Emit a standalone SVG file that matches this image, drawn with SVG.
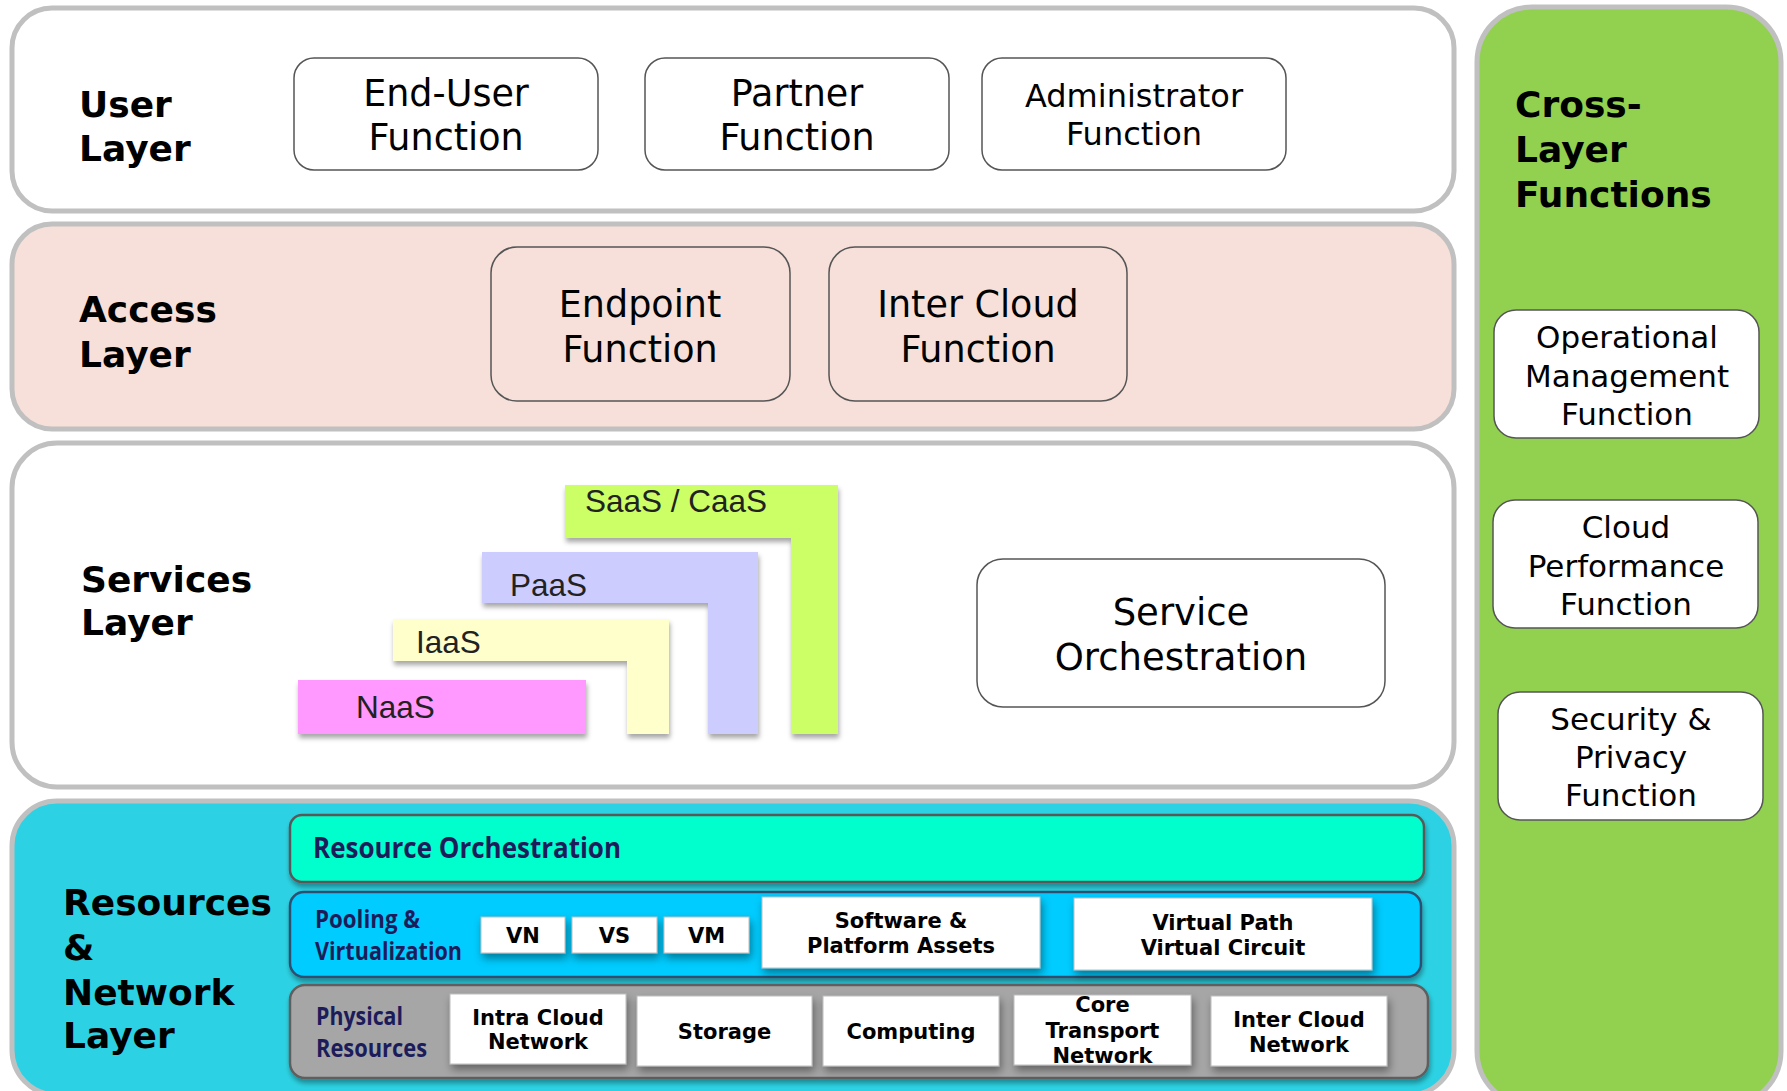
<svg xmlns="http://www.w3.org/2000/svg" width="1787" height="1091" viewBox="0 0 1787 1091">
<defs>
<style>
.panel{stroke:#c0c0c0;stroke-width:5}
.node{fill:#fff;stroke:#555;stroke-width:1.5}
.anode{fill:#f6e0d9;stroke:#555;stroke-width:1.5}
.lbl{font-family:"DejaVu Sans",Verdana,sans-serif;font-weight:bold;font-size:36px;fill:#000}
.nt{font-family:"DejaVu Sans",Verdana,sans-serif;font-size:36.5px;fill:#000;text-anchor:middle}
.ct{font-family:"DejaVu Sans",Verdana,sans-serif;font-size:31px;fill:#000;text-anchor:middle}
.st{font-family:"Liberation Sans",Arial,sans-serif;font-size:31.5px;fill:#222}
.nv{font-family:"Open Sans",Lato,sans-serif;font-weight:bold;fill:#1c1c5a}
.wb{fill:#fff;stroke:#bdbdbd;stroke-width:1}
.bt{font-family:"DejaVu Sans",Verdana,sans-serif;font-weight:bold;font-size:21px;fill:#000;text-anchor:middle}
</style>
<filter id="sh" x="-10%" y="-10%" width="130%" height="140%">
<feDropShadow dx="1" dy="4" stdDeviation="2.5" flood-color="#000" flood-opacity="0.35"/>
</filter>
<filter id="sh2" x="-10%" y="-20%" width="130%" height="160%">
<feDropShadow dx="2" dy="5" stdDeviation="4" flood-color="#000" flood-opacity="0.4"/>
</filter>
</defs>
<rect width="1787" height="1091" fill="#fff"/>

<g id="user-layer">
<rect class="panel" x="12" y="8" width="1442" height="203" rx="40" fill="#fff"/>
<text class="lbl" x="79" y="117">User</text>
<text class="lbl" x="79" y="161">Layer</text>
</g>
<g id="access-layer">
<rect class="panel" x="12" y="224" width="1442" height="205" rx="40" fill="#f6e0d9"/>
<text class="lbl" x="79" y="322">Access</text>
<text class="lbl" x="79" y="367">Layer</text>
</g>
<g id="services-layer">
<rect class="panel" x="12" y="443" width="1442" height="344" rx="45" fill="#fff"/>
<text class="lbl" x="81" y="592">Services</text>
<text class="lbl" x="81" y="635">Layer</text>
</g>
<g id="resources-layer">
<rect class="panel" x="12" y="801" width="1442" height="294" rx="45" fill="#2cd2e3"/>
<text class="lbl" x="63" y="915">Resources</text>
<text class="lbl" x="63" y="960">&amp;</text>
<text class="lbl" x="63" y="1005">Network</text>
<text class="lbl" x="63" y="1048">Layer</text>
</g>
<g id="cross-layer">
<rect class="panel" x="1477" y="7" width="304" height="1099" rx="55" fill="#92d050"/>
<text class="lbl" x="1515" y="117">Cross-</text>
<text class="lbl" x="1515" y="162">Layer</text>
<text class="lbl" x="1515" y="207">Functions</text>
</g>

<g id="end-user-function">
<rect class="node" x="294" y="58" width="304" height="112" rx="20"/>
<text class="nt" x="446" y="106">End-User</text>
<text class="nt" x="446" y="150">Function</text>
</g>
<g id="partner-function">
<rect class="node" x="645" y="58" width="304" height="112" rx="20"/>
<text class="nt" x="797" y="106">Partner</text>
<text class="nt" x="797" y="150">Function</text>
</g>
<g id="administrator-function">
<rect class="node" x="982" y="58" width="304" height="112" rx="20"/>
<text class="nt" x="1134" y="107" style="font-size:32px">Administrator</text>
<text class="nt" x="1134" y="145" style="font-size:32px">Function</text>
</g>

<g id="endpoint-function">
<rect class="anode" x="491" y="247" width="299" height="154" rx="26"/>
<text class="nt" x="640" y="317">Endpoint</text>
<text class="nt" x="640" y="362">Function</text>
</g>
<g id="inter-cloud-function">
<rect class="anode" x="829" y="247" width="298" height="154" rx="26"/>
<text class="nt" x="978" y="317">Inter Cloud</text>
<text class="nt" x="978" y="362">Function</text>
</g>

<g id="saas-caas">
<path d="M565,485 H838 V734 H791 V538 H565 Z" fill="#ccff66" filter="url(#sh)"/>
<text class="st" x="585" y="512">SaaS / CaaS</text>
</g>
<g id="paas">
<path d="M482,552 H758 V734 H708 V603 H482 Z" fill="#ccccff" filter="url(#sh)"/>
<text class="st" x="510" y="596">PaaS</text>
</g>
<g id="iaas">
<path d="M393,619 H669 V734 H627 V661 H393 Z" fill="#ffffcc" filter="url(#sh)"/>
<text class="st" x="416" y="653">IaaS</text>
</g>
<g id="naas">
<rect x="298" y="680" width="288" height="54" fill="#ff99ff" filter="url(#sh)"/>
<text class="st" x="356" y="718">NaaS</text>
</g>
<g id="service-orchestration">
<rect class="node" x="977" y="559" width="408" height="148" rx="26"/>
<text class="nt" x="1181" y="625" style="font-size:37px">Service</text>
<text class="nt" x="1181" y="670" style="font-size:37px">Orchestration</text>
</g>

<g id="operational-management-function">
<rect class="node" x="1494" y="310" width="265" height="128" rx="22"/>
<text class="ct" x="1627" y="348">Operational</text>
<text class="ct" x="1627" y="387">Management</text>
<text class="ct" x="1627" y="425">Function</text>
</g>
<g id="cloud-performance-function">
<rect class="node" x="1493" y="500" width="265" height="128" rx="22"/>
<text class="ct" x="1626" y="538">Cloud</text>
<text class="ct" x="1626" y="577">Performance</text>
<text class="ct" x="1626" y="615">Function</text>
</g>
<g id="security-privacy-function">
<rect class="node" x="1498" y="692" width="265" height="128" rx="22"/>
<text class="ct" x="1631" y="730">Security &amp;</text>
<text class="ct" x="1631" y="768">Privacy</text>
<text class="ct" x="1631" y="806">Function</text>
</g>

<g id="resource-orchestration">
<rect x="290" y="815" width="1134" height="67" rx="12" fill="#00ffcc" stroke="#595959" stroke-width="2.5" filter="url(#sh)"/>
<text class="nv" x="313" y="858" font-size="29" textLength="308" lengthAdjust="spacingAndGlyphs">Resource Orchestration</text>
</g>
<g id="pooling-virtualization">
<rect x="290" y="892" width="1131" height="85" rx="14" fill="#00ccff" stroke="#2f4f6f" stroke-width="2.5" filter="url(#sh)"/>
<text class="nv" x="315" y="928" font-size="25" textLength="105" lengthAdjust="spacingAndGlyphs">Pooling &amp;</text>
<text class="nv" x="315" y="960" font-size="25" textLength="147" lengthAdjust="spacingAndGlyphs">Virtualization</text>
</g>
<g id="vn">
<rect class="wb" x="481" y="917" width="84" height="36" filter="url(#sh2)"/>
<text class="bt" x="523" y="943">VN</text>
</g>
<g id="vs">
<rect class="wb" x="572" y="917" width="85" height="36" filter="url(#sh2)"/>
<text class="bt" x="614.5" y="943">VS</text>
</g>
<g id="vm">
<rect class="wb" x="664" y="917" width="85" height="36" filter="url(#sh2)"/>
<text class="bt" x="706.5" y="943">VM</text>
</g>
<g id="software-platform-assets">
<rect class="wb" x="762" y="897" width="278" height="71" filter="url(#sh2)"/>
<text class="bt" x="901" y="928">Software &amp;</text>
<text class="bt" x="901" y="953">Platform Assets</text>
</g>
<g id="virtual-path-circuit">
<rect class="wb" x="1074" y="898" width="298" height="72" filter="url(#sh2)"/>
<text class="bt" x="1223" y="930">Virtual Path</text>
<text class="bt" x="1223" y="955">Virtual Circuit</text>
</g>
<g id="physical-resources">
<rect x="290" y="985" width="1138" height="93" rx="15" fill="#a6a6a6" stroke="#5f5f5f" stroke-width="2.5" filter="url(#sh)"/>
<text class="nv" x="316" y="1025" font-size="25" textLength="87" lengthAdjust="spacingAndGlyphs">Physical</text>
<text class="nv" x="316" y="1057" font-size="25" textLength="111" lengthAdjust="spacingAndGlyphs">Resources</text>
</g>
<g id="intra-cloud-network">
<rect class="wb" x="450" y="994" width="176" height="70" filter="url(#sh2)"/>
<text class="bt" x="538" y="1025">Intra Cloud</text>
<text class="bt" x="538" y="1049">Network</text>
</g>
<g id="storage">
<rect class="wb" x="637" y="996" width="175" height="70" filter="url(#sh2)"/>
<text class="bt" x="724.5" y="1039">Storage</text>
</g>
<g id="computing">
<rect class="wb" x="823" y="996" width="176" height="70" filter="url(#sh2)"/>
<text class="bt" x="911" y="1039">Computing</text>
</g>
<g id="core-transport-network">
<rect class="wb" x="1014" y="995" width="177" height="70" filter="url(#sh2)"/>
<text class="bt" x="1102.5" y="1012">Core</text>
<text class="bt" x="1102.5" y="1038">Transport</text>
<text class="bt" x="1102.5" y="1063">Network</text>
</g>
<g id="inter-cloud-network">
<rect class="wb" x="1211" y="996" width="176" height="70" filter="url(#sh2)"/>
<text class="bt" x="1299" y="1027">Inter Cloud</text>
<text class="bt" x="1299" y="1052">Network</text>
</g>

<g id="connectors"></g>
</svg>
